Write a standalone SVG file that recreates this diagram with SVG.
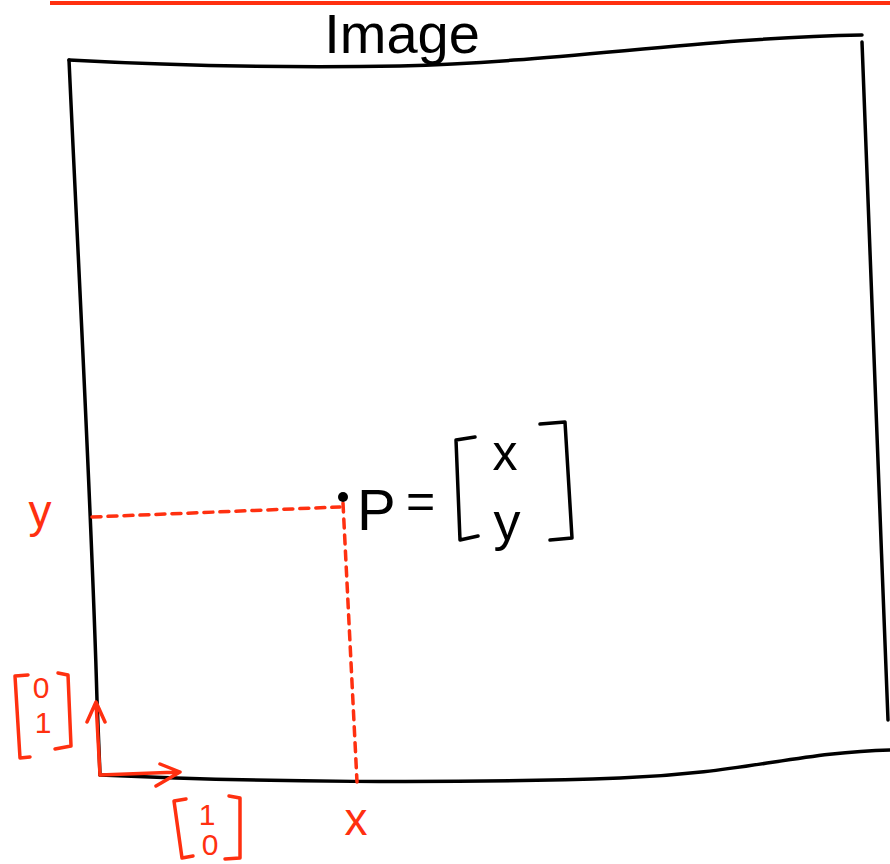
<svg xmlns="http://www.w3.org/2000/svg" width="890" height="864" viewBox="0 0 890 864">
<style>
.ink{fill:none;stroke:#000;stroke-width:3.5;stroke-linecap:round;stroke-linejoin:round}
.red{fill:none;stroke:#ff3010;stroke-width:3.5;stroke-linecap:round;stroke-linejoin:round}
.dash{fill:none;stroke:#ff3010;stroke-width:3.5;stroke-dasharray:9 7;stroke-linecap:round}
.tb{font-family:"Liberation Sans","DejaVu Sans",sans-serif;fill:#000}
.tr{font-family:"Liberation Sans","DejaVu Sans",sans-serif;fill:#ff3010}
</style>
<rect width="890" height="864" fill="#fff"/>
<line x1="50" y1="3" x2="890" y2="3" stroke="#ff3010" stroke-width="4"/>
<g id="image-frame">
<path class="ink" d="M69,60 C180,66 280,68 400,66 C560,62 700,38 862,35"/>
<path class="ink" d="M862,42 C870,300 880,500 888,720"/>
<path class="ink" d="M69,60 C80,300 92,520 97,700 L100,775"/>
<path class="ink" d="M100,775 C250,782 450,784 620,778 C740,774 800,752 890,750"/>
<text class="tb" x="402" y="53" font-size="56" text-anchor="middle">Image</text>
</g>
<g id="connectors">
<path class="dash" d="M92,517 L340,507"/>
<path class="dash" d="M343,503 L357,782"/>
<path class="red" d="M100,775 L96,702 M87,722 L96,702 L105,722"/>
<path class="red" d="M100,775 L180,772 M160,764 L180,772 L156,786"/>
</g>
<g id="point">
<circle cx="343" cy="497" r="5" fill="#000"/>
<text class="tb" x="357" y="530" font-size="58">P</text>
<text class="tb" x="406" y="518" font-size="50">=</text>
<path class="ink" d="M475,437 L456,440 L460,540 L478,536"/>
<path class="ink" d="M540,424 L565,422 L572,538 L550,540"/>
<text class="tb" x="505" y="470" font-size="50" text-anchor="middle">x</text>
<text class="tb" x="507" y="540" font-size="54" text-anchor="middle">y</text>
</g>
<g id="label-y">
<text class="tr" x="40" y="527" font-size="46" text-anchor="middle">y</text>
</g>
<g id="label-x">
<text class="tr" x="356" y="835" font-size="46" text-anchor="middle">x</text>
</g>
<g id="basis-01">
<path class="red" d="M28,675 L15,676 L20,758 L30,757"/>
<path class="red" d="M58,673 L68,675 L71,746 L55,749"/>
<text class="tr" x="41" y="698" font-size="30" text-anchor="middle">0</text>
<text class="tr" x="43" y="733" font-size="30" text-anchor="middle">1</text>
</g>
<g id="basis-10">
<path class="red" d="M186,799 L174,801 L182,858 L193,856"/>
<path class="red" d="M229,796 L240,798 L240,858 L225,859"/>
<text class="tr" x="207" y="825" font-size="30" text-anchor="middle">1</text>
<text class="tr" x="210" y="855" font-size="30" text-anchor="middle">0</text>
</g>
</svg>
